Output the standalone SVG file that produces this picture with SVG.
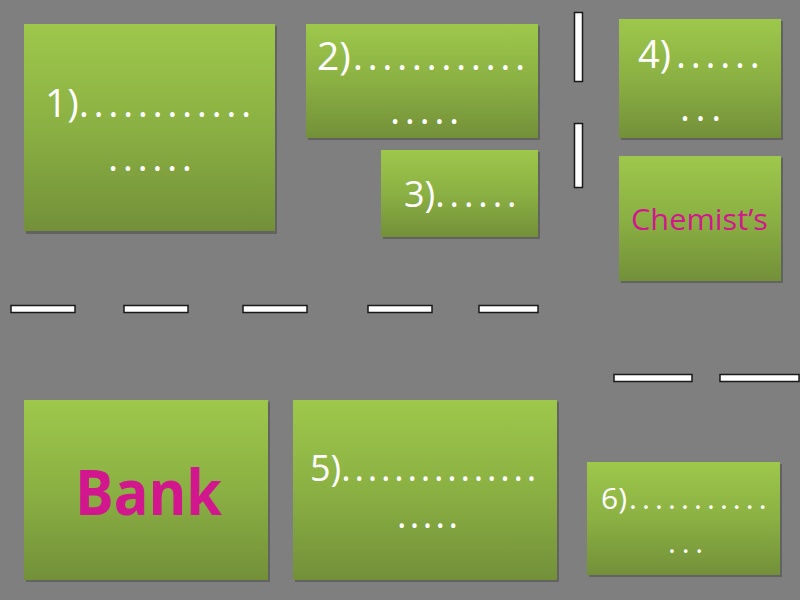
<svg xmlns="http://www.w3.org/2000/svg" width="800" height="600" viewBox="0 0 800 600">
<defs>
<linearGradient id="g" x1="0" y1="0" x2="0" y2="1">
<stop offset="0" stop-color="#9dc84b"/>
<stop offset="0.5" stop-color="#8bb043"/>
<stop offset="1" stop-color="#739039"/>
</linearGradient>
<style>
.box{fill:url(#g);}
.sh{fill:#4a4a4a;opacity:0.55;}
.t{font-family:"Open Sans","Liberation Sans",sans-serif;fill:#ffffff;}
.m{font-family:"Open Sans","Liberation Sans",sans-serif;fill:#d2168e;}
.d{fill:#ffffff;stroke:#1a1a1a;stroke-width:1.5;}
</style>
</defs>
<rect width="800" height="600" fill="#7f7f7f"/>
<g id="road">
<rect class="d" x="574.5" y="12.5" width="8" height="69"/>
<rect class="d" x="574.5" y="123.5" width="8" height="64"/>
<rect class="d" x="11" y="305.5" width="64" height="7"/>
<rect class="d" x="124" y="305.5" width="64" height="7"/>
<rect class="d" x="243" y="305.5" width="64" height="7"/>
<rect class="d" x="368" y="305.5" width="64" height="7"/>
<rect class="d" x="479" y="305.5" width="59" height="7"/>
<rect class="d" x="614" y="374.5" width="78" height="7"/>
<rect class="d" x="720" y="374.5" width="79" height="7"/>
</g>
<g id="n1">
<rect class="sh" x="26" y="26" width="251" height="208"/>
<rect class="box" x="24" y="24" width="251" height="207"/>
<text class="t" x="45" y="117" font-size="39">1)<tspan letter-spacing="4.5">............</tspan></text>
<text class="t" x="108" y="171" font-size="39" letter-spacing="4.5">......</text>
</g>
<g id="n2">
<rect class="sh" x="308" y="26" width="232" height="114"/>
<rect class="box" x="306" y="24" width="232" height="114"/>
<text class="t" x="317" y="70" font-size="39">2)<tspan dx="2" letter-spacing="4.5">............</tspan></text>
<text class="t" x="390" y="124" font-size="39" letter-spacing="4.5">.....</text>
</g>
<g id="n3">
<rect class="sh" x="383" y="152" width="157" height="87"/>
<rect class="box" x="381" y="150" width="157" height="87"/>
<text class="t" x="404" y="207" font-size="36">3)<tspan letter-spacing="4.9">......</tspan></text>
</g>
<g id="n4">
<rect class="sh" x="621" y="21" width="162" height="119"/>
<rect class="box" x="619" y="19" width="162" height="119"/>
<text class="t" x="638" y="68" font-size="38">4)<tspan dx="5" letter-spacing="4.8">......</tspan></text>
<text class="t" x="680" y="121" font-size="38" letter-spacing="5.6">...</text>
</g>
<g id="chemists">
<rect class="sh" x="621" y="158" width="162" height="125"/>
<rect class="box" x="619" y="156" width="162" height="125"/>
<text class="m" x="631" y="230" font-size="30" textLength="137" lengthAdjust="spacingAndGlyphs">Chemist’s</text>
</g>
<g id="bank">
<rect class="sh" x="26" y="402" width="244" height="180"/>
<rect class="box" x="24" y="400" width="244" height="180"/>
<text class="m" x="75" y="515" font-size="63" font-weight="bold" textLength="147" lengthAdjust="spacingAndGlyphs">Bank</text>
</g>
<g id="n5">
<rect class="sh" x="295" y="402" width="264" height="180"/>
<rect class="box" x="293" y="400" width="264" height="180"/>
<text class="t" x="310" y="481" font-size="36">5)<tspan letter-spacing="3.8">...............</tspan></text>
<text class="t" x="397" y="528" font-size="36" letter-spacing="3.4">.....</text>
</g>
<g id="n6">
<rect class="sh" x="589" y="464" width="193" height="113"/>
<rect class="box" x="587" y="462" width="193" height="113"/>
<text class="t" x="601" y="509" font-size="30">6)<tspan dx="2" letter-spacing="5.1">...........</tspan></text>
<text class="t" x="668" y="553" font-size="30" letter-spacing="5.8">...</text>
</g>
</svg>
